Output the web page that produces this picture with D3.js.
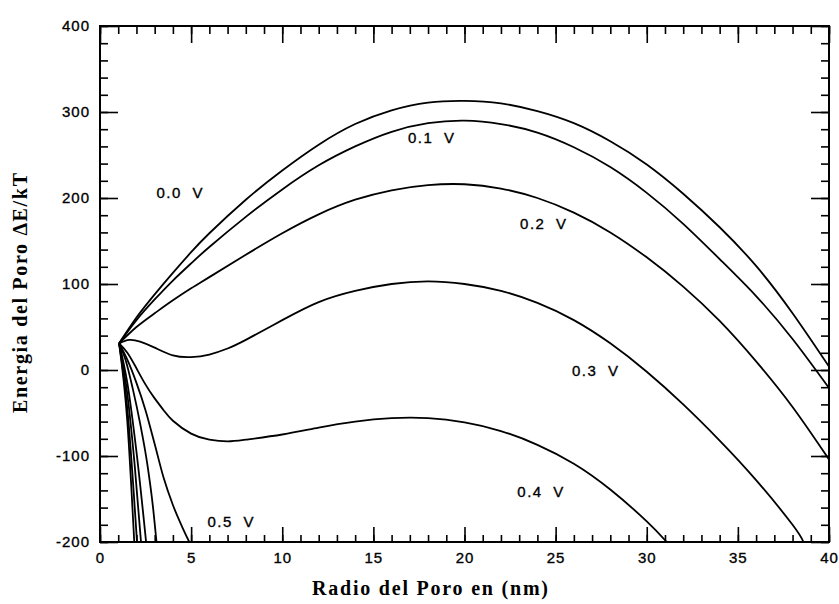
<!DOCTYPE html>
<html>
<head>
<meta charset="utf-8">
<script src="https://cdn.jsdelivr.net/npm/d3@7"></script>
<style>
  body { margin: 0; background: #fff; }
  .tick text { font-family: 'Liberation Sans', Arial, sans-serif; font-size: 15px; letter-spacing: 1px; fill: #000; stroke: #000; stroke-width: 0.35; }
  .tick line { stroke: #000; stroke-width: 1.6; }
  .lbl { font-family: 'Liberation Sans', Arial, sans-serif; font-size: 15px; letter-spacing: 1.5px; word-spacing: 5px; stroke: #000; stroke-width: 0.35; }
  .title { font-family: 'Liberation Serif', 'Times New Roman', serif; font-size: 20px; font-weight: bold; }
</style>
</head>
<body>
<svg id="chart" width="839" height="604"></svg>
<script>
'use strict'

// curves: [radio (nm), energia (kT)]
const v00 = [[1.05,31],[2,61],[3,88],[4,113],[5,137],[6,159],[8,198],[10,232],[12,262],[14,286],[16,302],[18,311],[20,313],[22,310],[24,301],[26,287],[28,266],[30,239],[32,205],[34,166],[36,121],[38,66],[40,4]]
const v01 = [[1.05,31],[2,58],[3,82],[4,104],[5,124],[6,143],[8,178],[10,210],[12,238],[14,260],[16,277],[18,287],[20,290],[22,286],[24,276],[26,259],[28,236],[30,206],[32,170],[34,129],[36,86],[38,36],[40,-21]]
const v02 = [[1.05,31],[2,50],[3,66],[4,81],[5,95],[6,108],[8,134],[10,159],[12,181],[14,198],[16,209],[18,215],[20,216],[22,211],[24,200],[26,183],[28,160],[30,131],[32,97],[34,57],[36,10],[38,-43],[40,-104]]
const v03 = [[1.05,31],[1.6,35],[2.2,33],[3,26],[4,17],[5,15],[6,18],[7,25],[8,35],[10,58],[12,79],[14,92],[16,100],[18,103],[20,100],[22,92],[24,78],[26,58],[28,31],[30,-2],[32,-40],[34,-82],[36,-128],[38,-180],[38.6,-200]]
const v04 = [[1.05,31],[1.5,20],[2,2],[2.5,-17],[3,-33],[3.5,-47],[4,-59],[5,-74],[6,-81],[7,-83],[8,-81],[10,-75],[12,-67],[14,-60],[16,-56],[18,-56],[20,-61],[22,-71],[24,-87],[26,-109],[28,-139],[30,-176],[31.1,-200]]
const v05 = [[1.05,31],[1.5,12],[2,-15],[2.5,-47],[3,-86],[3.5,-126],[4,-157],[4.5,-182],[4.9,-200]]
const v06 = [[1.05,31],[1.4,12],[1.8,-22],[2.2,-62],[2.6,-110],[2.9,-158],[3.1,-200]]
const v07 = [[1.05,31],[1.5,-15],[2,-95],[2.53,-200]]
const v08 = [[1.05,31],[1.5,-28],[1.9,-110],[2.25,-200]]
const v09 = [[1.05,31],[1.5,-45],[2.03,-200]]
const v10 = [[1.05,31],[1.5,-60],[1.88,-200]]

const smoothCurves = [v00, v01, v02, v03, v04]
const steepCurves = [v05, v06, v07, v08, v09, v10]

const labels = ['0.0 V', '0.1 V', '0.2 V', '0.3 V', '0.4 V', '0.5 V']
const labelAt = [[3.1,206],[16.9,270],[23.05,170],[25.9,-1],[22.9,-141],[5.9,-177]]

const xTicks = [0, 5, 10, 15, 20, 25, 30, 35, 40]
const yTicks = [-200, -100, 0, 100, 200, 300, 400]

const plotL = 100, plotR = 829, plotT = 26, plotB = 542

const x = d3.scaleLinear().domain([0, 40]).range([plotL, plotR])
const y = d3.scaleLinear().domain([-200, 400]).range([plotB, plotT])

const svg = d3.select('#chart')

svg.append('clipPath').attr('id', 'plot')
  .append('rect')
    .attr('x', plotL).attr('y', plotT)
    .attr('width', plotR - plotL).attr('height', plotB - plotT)

// axes: major and minor ticks pointing inward
function axisGroup(axis, tx, ty) {
  const g = svg.append('g').attr('transform', 'translate(' + tx + ',' + ty + ')').call(axis)
  g.select('.domain').remove()
  return g
}

const minorX = d3.range(0, 41, 1)
const minorY = d3.range(-200, 401, 20)

axisGroup(d3.axisBottom(x).tickValues(xTicks).tickSize(-15).tickPadding(10).tickFormat(d => String(d)), 0, plotB)
axisGroup(d3.axisBottom(x).tickValues(minorX).tickSize(-7).tickFormat(''), 0, plotB)
axisGroup(d3.axisTop(x).tickValues(xTicks).tickSize(-17).tickFormat(''), 0, plotT)
axisGroup(d3.axisTop(x).tickValues(minorX).tickSize(-8).tickFormat(''), 0, plotT)
axisGroup(d3.axisLeft(y).tickValues(yTicks).tickSize(-18).tickPadding(10).tickFormat(d => String(d)), plotL, 0)
axisGroup(d3.axisLeft(y).tickValues(minorY).tickSize(-8).tickFormat(''), plotL, 0)
axisGroup(d3.axisRight(y).tickValues(yTicks).tickSize(-18).tickFormat(''), plotR, 0)
axisGroup(d3.axisRight(y).tickValues(minorY).tickSize(-8).tickFormat(''), plotR, 0)

svg.append('rect')
    .attr('x', plotL).attr('y', plotT)
    .attr('width', plotR - plotL).attr('height', plotB - plotT)
    .attr('fill', 'none')
    .attr('stroke', '#000')
    .attr('stroke-width', 2)

const smoothLine = d3.line()
    .x(d => x(d[0]))
    .y(d => y(d[1]))
    .curve(d3.curveNatural)

const steepLine = d3.line()
    .x(d => x(d[0]))
    .y(d => y(d[1]))
    .curve(d3.curveMonotoneX)

const curves = svg.append('g').attr('clip-path', 'url(#plot)')

curves.selectAll('.smooth')
    .data(smoothCurves)
  .enter().append('path')
    .attr('class', 'smooth')
    .attr('d', smoothLine)
    .attr('fill', 'none')
    .attr('stroke', '#000')
    .attr('stroke-width', 1.8)

curves.selectAll('.steep')
    .data(steepCurves)
  .enter().append('path')
    .attr('class', 'steep')
    .attr('d', steepLine)
    .attr('fill', 'none')
    .attr('stroke', '#000')
    .attr('stroke-width', 1.8)

svg.selectAll('.lbl')
    .data(labels)
  .enter().append('text')
    .attr('class', 'lbl')
    .attr('x', (d, i) => x(labelAt[i][0]))
    .attr('y', (d, i) => y(labelAt[i][1]))
    .attr('dy', '0.35em')
    .text(d => d)

svg.append('text')
    .attr('class', 'title')
    .attr('x', 430)
    .attr('y', 595)
    .attr('text-anchor', 'middle')
    .attr('textLength', 236)
    .attr('lengthAdjust', 'spacing')
    .text('Radio del Poro en (nm)')

svg.append('text')
    .attr('class', 'title')
    .attr('transform', 'translate(27,293) rotate(-90)')
    .attr('text-anchor', 'middle')
    .attr('textLength', 240)
    .attr('lengthAdjust', 'spacing')
    .text('Energia del Poro ΔE/kT')
</script>
</body>
</html>
